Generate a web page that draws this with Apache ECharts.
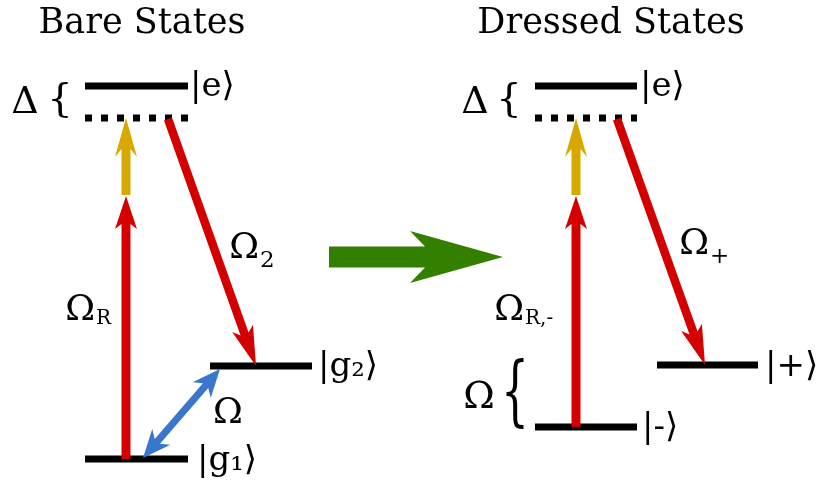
<!DOCTYPE html>
<html><head><meta charset="utf-8">
<script src="https://cdn.jsdelivr.net/npm/echarts@6/dist/echarts.min.js"></script>
<style>html,body{margin:0;padding:0;background:#fff}#c{width:818px;height:483px}</style>
</head><body><div id="c"></div>
<script>
// ---- data (diagram coordinates in a 818 x 483 data space) ----
const titleText = ['Bare States', 'Dressed States'];
const titleX = [142, 611];
const titleY = [24, 24];

// energy levels
const levelName = ['e', 'virtual', 'g1', 'g2', 'e', 'virtual', 'minus', 'plus'];
const levelX0 = [85, 85, 85, 210, 535, 535, 535, 657];
const levelX1 = [188, 188, 188, 312, 637, 637, 637, 758];
const levelY = [86, 118, 459, 366, 86, 118, 427, 365];
const levelDotted = [0, 1, 0, 0, 0, 1, 0, 0];

// kets
const ketText = ['|e⟩', '|g₁⟩', '|g₂⟩', '|e⟩', '|-⟩', '|+⟩'];
const ketX = [190, 197, 318, 640, 642, 765];
const ketY = [87, 461, 367, 87, 428, 367];

// transitions
const arrowKind = ['probe', 'detuning', 'coupling', 'drive', 'probe', 'detuning', 'coupling', 'dressing'];
const arrowX0 = [126, 126, 168, 143, 576, 576, 617, 329];
const arrowY0 = [459, 195, 119, 458, 427, 195, 119, 257];
const arrowX1 = [126, 126, 256, 220, 576, 576, 705, 503];
const arrowY1 = [196, 118, 366, 369, 196, 118, 365, 257];
const arrowDouble = [0, 0, 0, 1, 0, 0, 0, 0];

// Rabi frequency labels
const rabiMain = ['Ω', 'Ω', 'Ω', 'Ω', 'Ω'];
const rabiSub = ['R', '2', 'R,-', '+', ''];
const rabiX = [95, 259, 524, 709, 228];
const rabiY = [311, 249, 311, 245, 414];

// detuning / splitting markers
const markText = ['Δ', 'Δ', 'Ω'];
const markX = [25, 475, 479];
const markY = [103, 103, 398];
const braceX = [60, 509, 515];
const braceY = [101, 101, 396];
const braceTall = [0, 0, 1];

// ---- styles ----
const FONT = '"DejaVu Serif", "DejaVu Sans", serif';
const arrowStyle = {
  probe:    { color: '#D40000', w: 9, head: 33, half: 11, notch: 5 },
  coupling: { color: '#D40000', w: 8.5, head: 40, half: 11, notch: 6 },
  detuning: { color: '#D6A800', w: 9, head: 39, half: 11, notch: 8 },
  drive:    { color: '#3A76CC', w: 7, head: 28, half: 12, notch: 6 },
  dressing: { color: '#338000', w: 21, head: 93, half: 26, notch: 15 }
};

function arrowPoints(p0, p1, s, dbl) {
  const dx = p1[0] - p0[0], dy = p1[1] - p0[1];
  const L = Math.hypot(dx, dy);
  const ux = dx / L, uy = dy / L, nx = -uy, ny = ux;
  const P = (p, a, b) => [p[0] + ux * a + nx * b, p[1] + uy * a + ny * b];
  const w = s.w / 2, pts = [];
  if (dbl) {
    pts.push(p0, P(p0, s.head, -s.half), P(p0, s.head - s.notch, -w));
  } else {
    pts.push(P(p0, 0, -w));
  }
  pts.push(P(p1, -(s.head - s.notch), -w), P(p1, -s.head, -s.half), p1,
           P(p1, -s.head, s.half), P(p1, -(s.head - s.notch), w));
  if (dbl) {
    pts.push(P(p0, s.head - s.notch, w), P(p0, s.head, s.half));
  } else {
    pts.push(P(p0, 0, w));
  }
  return pts;
}

const chart = echarts.init(document.getElementById('c'), null, { renderer: 'canvas' });

chart.setOption({
  animation: false,
  backgroundColor: '#fff',
  grid: { left: 0, right: 0, top: 0, bottom: 0 },
  xAxis: { type: 'value', min: 0, max: 818, show: false },
  yAxis: { type: 'value', min: 0, max: 483, inverse: true, show: false },
  series: [
    { // levels
      type: 'custom', coordinateSystem: 'cartesian2d', silent: true,
      data: levelY.map((y, i) => [levelX0[i], y, levelX1[i]]),
      renderItem: (params, api) => {
        const a = api.coord([api.value(0), api.value(1)]);
        const b = api.coord([api.value(2), api.value(1)]);
        const i = params.dataIndex;
        return { type: 'line', shape: { x1: a[0], y1: a[1], x2: b[0], y2: b[1] },
          style: { stroke: '#000', lineWidth: 7, lineCap: 'butt', lineDash: levelDotted[i] ? [7, 9] : null } };
      }
    },
    { // arrows
      type: 'custom', coordinateSystem: 'cartesian2d', silent: true,
      data: arrowX0.map((x, i) => [x, arrowY0[i], arrowX1[i], arrowY1[i]]),
      renderItem: (params, api) => {
        const i = params.dataIndex;
        const p0 = api.coord([api.value(0), api.value(1)]);
        const p1 = api.coord([api.value(2), api.value(3)]);
        const s = arrowStyle[arrowKind[i]];
        return { type: 'polygon', shape: { points: arrowPoints(p0, p1, s, arrowDouble[i]) },
          style: { fill: s.color } };
      }
    },
    { // titles
      type: 'custom', coordinateSystem: 'cartesian2d', silent: true,
      data: titleX.map((x, i) => [x, titleY[i]]),
      renderItem: (params, api) => {
        const p = api.coord([api.value(0), api.value(1)]);
        return { type: 'text', x: p[0], y: p[1], style: { text: titleText[params.dataIndex],
          font: '35px ' + FONT, fill: '#000', align: 'center', verticalAlign: 'middle' } };
      }
    },
    { // kets
      type: 'custom', coordinateSystem: 'cartesian2d', silent: true,
      data: ketX.map((x, i) => [x, ketY[i]]),
      renderItem: (params, api) => {
        const p = api.coord([api.value(0), api.value(1)]);
        return { type: 'text', x: p[0], y: p[1], style: { text: ketText[params.dataIndex],
          font: '34px ' + FONT, fill: '#000', align: 'left', verticalAlign: 'middle' } };
      }
    },
    { // Rabi labels
      type: 'custom', coordinateSystem: 'cartesian2d', silent: true,
      data: rabiX.map((x, i) => [x, rabiY[i]]),
      renderItem: (params, api) => {
        const i = params.dataIndex;
        const p = api.coord([api.value(0), api.value(1)]);
        const sub = rabiSub[i];
        const children = [{ type: 'text', x: p[0], y: p[1], style: { text: rabiMain[i],
          font: '36px ' + FONT, fill: '#000', align: sub ? 'right' : 'center', verticalAlign: 'middle' } }];
        if (sub) {
          const digit = /[0-9+]/.test(sub);
          children.push({ type: 'text', x: p[0] + 1, y: p[1] + (digit ? 12 : 8), style: { text: sub,
            font: (digit ? 23 : 20) + 'px ' + FONT, fill: '#000', align: 'left', verticalAlign: 'middle' } });
        }
        return { type: 'group', children };
      }
    },
    { // Δ / Ω splitting markers
      type: 'custom', coordinateSystem: 'cartesian2d', silent: true,
      data: markX.map((x, i) => [x, markY[i]]),
      renderItem: (params, api) => {
        const p = api.coord([api.value(0), api.value(1)]);
        return { type: 'text', x: p[0], y: p[1], style: { text: markText[params.dataIndex],
          font: '38px ' + FONT, fill: '#000', align: 'center', verticalAlign: 'middle' } };
      }
    },
    { // braces
      type: 'custom', coordinateSystem: 'cartesian2d', silent: true,
      data: braceX.map((x, i) => [x, braceY[i]]),
      renderItem: (params, api) => {
        const i = params.dataIndex;
        const p = api.coord([api.value(0), api.value(1)]);
        return { type: 'text', x: p[0], y: p[1], scaleY: braceTall[i] ? 1.75 : 1,
          style: { text: '{', font: (braceTall[i] ? 44 : 40) + 'px ' + FONT, fill: '#000',
            align: 'center', verticalAlign: 'middle' } };
      }
    }
  ]
});
</script></body></html>
